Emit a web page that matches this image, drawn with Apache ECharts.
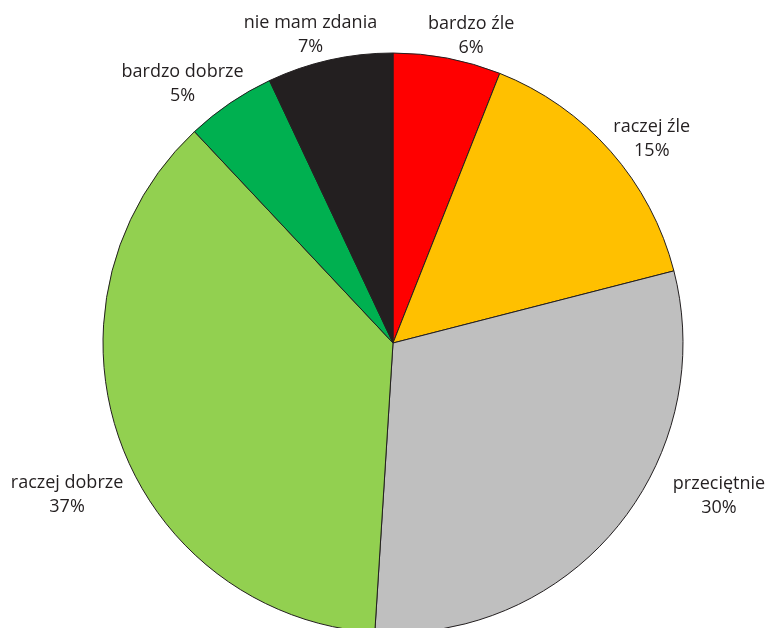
<!DOCTYPE html>
<html>
<head>
<meta charset="utf-8">
<script src="https://cdn.jsdelivr.net/npm/echarts@6/dist/echarts.min.js"></script>
<style>
html,body{margin:0;padding:0;background:#fff;}
#chart{width:769px;height:628px;}
</style>
</head>
<body>
<div id="chart"></div>
<script>
const categories = ['bardzo źle', 'raczej źle', 'przeciętnie', 'raczej dobrze', 'bardzo dobrze', 'nie mam zdania'];
const values = [6, 15, 30, 37, 5, 7];
const colors = ['#FF0000', '#FFC000', '#BFBFBF', '#92D050', '#00B050', '#231F20'];
// label nudges (pixels) relative to ECharts' outside-label anchor
const labelNudges = [[21, -8], [30, -2], [91, -42], [-39, 49], [-39, -7], [-16, -10]];

const chart = echarts.init(document.getElementById('chart'), null, {renderer: 'canvas'});
chart.setOption({
  animation: false,
  backgroundColor: '#ffffff',
  series: [{
    type: 'pie',
    center: [393, 343],
    radius: 290,
    startAngle: 90,
    clockwise: true,
    avoidLabelOverlap: false,
    data: categories.map((c, i) => ({name: c, value: values[i], itemStyle: {color: colors[i]}})),
    itemStyle: {borderColor: '#231F20', borderWidth: 1},
    emphasis: {disabled: true},
    label: {
      show: true,
      position: 'outside',
      formatter: '{b}\n{c}%',
      color: '#231F20',
      fontFamily: 'Open Sans',
      fontSize: 18,
      lineHeight: 24,
      width: 170,
      distanceToLabelLine: 0
    },
    labelLine: {show: false, length: 15, length2: 0},
    labelLayout: function (p) {
      const n = labelNudges[p.dataIndex];
      return {align: 'center', verticalAlign: 'middle', dx: n[0], dy: n[1]};
    }
  }]
});
</script>
</body>
</html>
